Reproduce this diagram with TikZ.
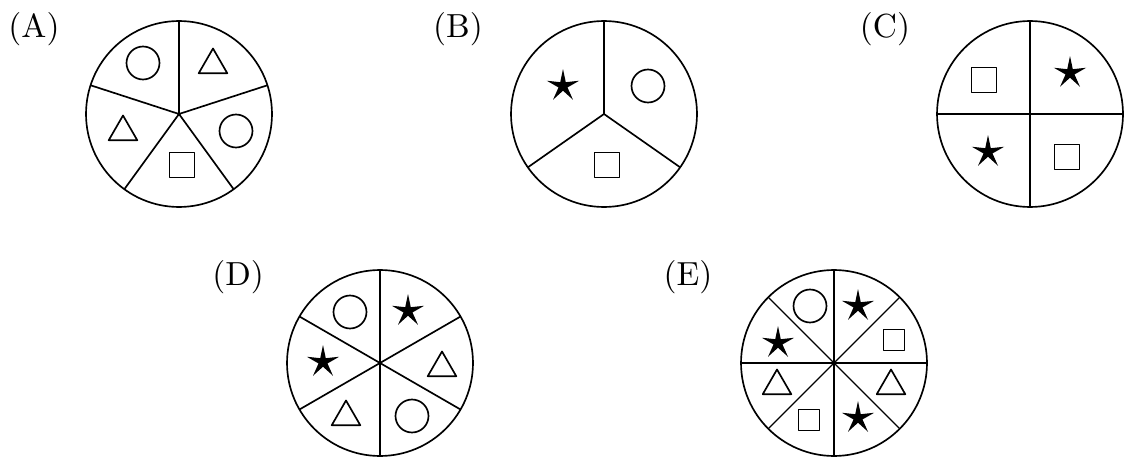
\documentclass[tikz,border=0pt]{standalone}
\usepackage{fontspec}
\usetikzlibrary{shapes.geometric}
\begin{document}
\begin{tikzpicture}[x=0.02cm, y=0.02cm, line join=round]
	\def\rad{1.86cm}
	\tikzset{every node/.style={inner sep=0pt, outer sep=0pt},
		labtext/.style={scale=1.9},
		shpcirc/.style={circle, draw, line width=0.95pt, minimum size=0.66cm},
		shptri/.style={regular polygon, regular polygon sides=3, draw, line width=0.95pt, minimum size=0.66cm},
		shpsq/.style={rectangle, draw, line width=0.95pt, minimum size=0.5cm},
		shpsmallsq/.style={shpsq, minimum size=0.42cm},
		shpstar/.style={star, star points=5, star point ratio=3.6, fill=black, minimum size=0.68cm},
		wheel/.style={line width=0.95pt},
		thickcut/.style={line width=1.5pt},
		thincut/.style={line width=0.75pt}}
	\useasboundingbox (0,0) rectangle (1125,457);
	% (A) five parts
	\node[labtext] (labA) at (34,428) {(A)};
	\coordinate (cA) at (179,343);
	\draw[wheel] (cA) circle (\rad);
	\draw[wheel] (cA)--++(90:\rad) (cA)--++(18:\rad) (cA)--++(-54:\rad) (cA)--++(-126:\rad) (cA)--++(162:\rad);
	\node[shpcirc] (A1) at (143,394) {};
	\node[shptri] (A2) at (213,392) {};
	\node[shpcirc] (A3) at (236,326) {};
	\node[shpsq] (A4) at (182,292) {};
	\node[shptri] (A5) at (123,325) {};
	% (B) three parts
	\node[labtext] (labB) at (458,428) {(B)};
	\coordinate (cB) at (604,343);
	\draw[wheel] (cB) circle (\rad);
	\draw[wheel] (cB)--++(90:\rad) (cB)--++(-35:\rad) (cB)--++(215:\rad);
	\node[shpstar] (B1) at (563,371) {};
	\node[shpcirc] (B2) at (648,371) {};
	\node[shpsq] (B3) at (607,292) {};
	% (C) four parts
	\node[labtext] (labC) at (885,428) {(C)};
	\coordinate (cC) at (1030,343);
	\draw[wheel] (cC) circle (\rad);
	\draw[thickcut] (cC)--++(90:\rad) (cC)--++(0:\rad) (cC)--++(-90:\rad) (cC)--++(180:\rad);
	\node[shpsq] (C1) at (984,377) {};
	\node[shpstar] (C2) at (1070,384) {};
	\node[shpstar] (C3) at (988,305) {};
	\node[shpsq] (C4) at (1067,300) {};
	% (D) six parts
	\node[labtext] (labD) at (238,180) {(D)};
	\coordinate (cD) at (380,94);
	\draw[wheel] (cD) circle (\rad);
	\draw[thickcut] (cD)--++(90:\rad) (cD)--++(-90:\rad);
	\draw[wheel] (cD)--++(30:\rad) (cD)--++(150:\rad) (cD)--++(210:\rad) (cD)--++(-30:\rad);
	\node[shpcirc] (D1) at (350,145) {};
	\node[shpstar] (D2) at (408,146) {};
	\node[shptri] (D3) at (442,89) {};
	\node[shpcirc] (D4) at (412,41) {};
	\node[shptri] (D5) at (346,40) {};
	\node[shpstar] (D6) at (323,95) {};
	% (E) eight parts
	\node[labtext] (labE) at (688,180) {(E)};
	\coordinate (cE) at (834,94);
	\draw[wheel] (cE) circle (\rad);
	\draw[thickcut] (cE)--++(90:\rad) (cE)--++(0:\rad) (cE)--++(-90:\rad) (cE)--++(180:\rad);
	\draw[thincut] (cE)--++(45:\rad) (cE)--++(135:\rad) (cE)--++(225:\rad) (cE)--++(-45:\rad);
	\node[shpcirc] (E1) at (810,151) {};
	\node[shpstar] (E2) at (858,151) {};
	\node[shpsmallsq] (E3) at (894,117) {};
	\node[shptri] (E4) at (891,71) {};
	\node[shpstar] (E5) at (858,39) {};
	\node[shpsmallsq] (E6) at (809,37) {};
	\node[shptri] (E7) at (777,71) {};
	\node[shpstar] (E8) at (778,114) {};
\end{tikzpicture}
\end{document}
